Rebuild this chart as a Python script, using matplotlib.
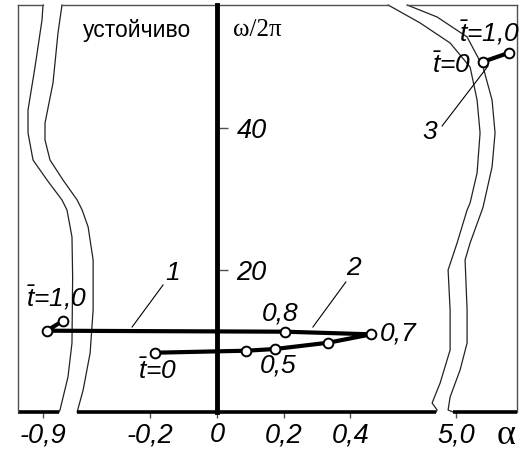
import numpy as np
import matplotlib
matplotlib.use("Agg")
import matplotlib.pyplot as plt

plt.rcParams['mathtext.fontset'] = 'custom'
plt.rcParams['mathtext.it'] = 'Liberation Sans:italic'
plt.rcParams['mathtext.rm'] = 'Liberation Sans:italic'

# axis ticks (alpha axis is broken twice)
alpha_ticks = [-0.9, -0.2, 0.0, 0.2, 0.4, 5.0]
alpha_tick_labels = ['-0,9', '-0,2', '0', '0,2', '0,4', '5,0']
omega_ticks = [20, 40]
omega_tick_labels = ['20', '40']

# trajectory 1-2, t from 0 to 1
traj_alpha = [-0.186, 0.087, 0.174, 0.334, 0.463, 0.204, -0.889, -0.839]
traj_omega = [8.35, 8.63, 8.87, 9.76, 10.94, 11.31, 11.45, 12.86]

# trajectory 3
traj3_alpha = [5.082, 5.160]
traj3_omega = [49.34, 50.61]

# stability boundaries, left double line
left_outer_alpha = [-0.900, -0.903, -0.924, -0.945, -0.945, -0.930, -0.888, -0.843,
                    -0.828, -0.813, -0.811, -0.813, -0.825, -0.849, -0.852]
left_outer_omega = [57.32, 55.21, 48.59, 42.54, 39.30, 35.49, 32.68, 29.86,
                    28.45, 24.65, 19.01, 9.72, 4.93, 0.28, 0.0]
left_inner_alpha = [-0.843, -0.855, -0.870, -0.894, -0.894, -0.879, -0.840, -0.420,
                    -0.405, -0.387, -0.372, -0.372, -0.381, -0.402, -0.420]
left_inner_omega = [57.32, 53.38, 46.34, 40.70, 38.31, 35.49, 32.68, 29.86,
                    28.45, 26.06, 21.41, 14.37, 8.31, 3.10, 0.0]

# stability boundaries, right double line
right_a_alpha = [0.514, 0.610, 4.982, 5.042, 5.063, 5.072, 5.063, 5.042, 5.033,
                 5.003, 4.976, 4.982, 4.982, 0.670, 0.646, 0.661, 0.658]
right_a_omega = [57.32, 54.79, 51.97, 48.59, 43.94, 39.30, 33.66, 29.44, 28.45,
                 23.80, 20.00, 14.37, 8.73, 4.08, 1.27, 0.28, 0.0]
right_b_alpha = [0.571, 0.661, 5.033, 5.081, 5.108, 5.117, 5.108, 5.081, 5.078,
                 5.042, 5.027, 5.033, 5.033, 5.012, 4.982, 4.976, 4.991]
right_b_omega = [57.32, 55.63, 52.82, 48.59, 43.94, 39.30, 34.51, 28.87, 28.45,
                 23.80, 21.41, 14.37, 9.72, 5.92, 2.11, 0.28, 0.0]

# piecewise scale for the broken alpha axis
brk_alpha = np.array([-10.0, -0.81, -0.43, 0.69, 4.975, 15.0])
brk_pos = np.array([-9.6225, -0.4325, -0.43, 0.69, 0.693, 10.718])


def forward(a):
    return np.interp(a, brk_alpha, brk_pos)


def inverse(u):
    return np.interp(u, brk_pos, brk_alpha)


fig = plt.figure(figsize=(5.26, 4.55), dpi=100)
ax = fig.add_axes([18 / 526, 43 / 455, 499 / 526, 407 / 455])
ax.set_xscale('function', functions=(forward, inverse))
xmin, xmax = -0.9751, 5.1829
ymax = 57.32
ax.set_xlim(xmin, xmax)
ax.set_ylim(0, ymax)

frame = '#505050'
ax.spines['top'].set_visible(False)
ax.spines['bottom'].set_visible(False)
ax.spines['left'].set_color(frame)
ax.spines['left'].set_linewidth(1.0)
ax.spines['right'].set_position(('data', 0))
ax.spines['right'].set_linewidth(3.5)
ax.spines['right'].set_zorder(3)

ax.yaxis.set_ticks_position('right')
ax.set_yticks(omega_ticks, omega_tick_labels)
ax.tick_params(axis='y', direction='out', length=8, width=1, color=frame, pad=6,
               labelsize=19.5)
ax.set_xticks(alpha_ticks, alpha_tick_labels)
ax.xaxis.set_minor_locator(matplotlib.ticker.NullLocator())
ax.tick_params(axis='x', direction='out', length=4.5, width=1, color=frame, pad=3,
               labelsize=19.5)
for lab in ax.get_xticklabels() + ax.get_yticklabels():
    lab.set_family('Liberation Sans')
    lab.set_style('italic')

# boundaries
for xs, ys in [(left_outer_alpha, left_outer_omega), (left_inner_alpha, left_inner_omega),
               (right_a_alpha, right_a_omega), (right_b_alpha, right_b_omega)]:
    ax.plot(xs, ys, color='#222222', lw=0.9, clip_on=False)

# frame pieces
ax.plot([xmin, left_outer_alpha[0]], [ymax, ymax], color=frame, lw=1, clip_on=False)
ax.plot([left_inner_alpha[0], right_a_alpha[0]], [ymax, ymax], color=frame, lw=1, clip_on=False)
ax.plot([right_b_alpha[0], xmax], [ymax, ymax], color=frame, lw=1, clip_on=False)
ax.plot([xmax, xmax], [0, ymax], color=frame, lw=1, clip_on=False)
ax.plot([xmin, left_outer_alpha[-1]], [0, 0], color='black', lw=2.6, clip_on=False,
        solid_capstyle='butt')
ax.plot([left_inner_alpha[-1], right_a_alpha[-1]], [0, 0], color='black', lw=2.6,
        clip_on=False, solid_capstyle='butt')
ax.plot([right_b_alpha[-1], xmax], [0, 0], color='black', lw=2.6, clip_on=False,
        solid_capstyle='butt')

# trajectories
ax.plot(traj_alpha, traj_omega, color='black', lw=3.0, zorder=4,
        marker='o', ms=7, mfc='white', mec='black', mew=1.4)
ax.plot(traj3_alpha, traj3_omega, color='black', lw=3.0, zorder=4,
        marker='o', ms=7, mfc='white', mec='black', mew=1.4)

# leader lines
ax.plot([-0.255, -0.162], [11.97, 17.89], color='black', lw=0.8)
ax.plot([0.288, 0.387], [11.97, 18.31], color='black', lw=0.8)
ax.plot([0.676, 5.096], [40.28, 48.73], color='black', lw=0.8)

it = dict(family='Liberation Sans', style='italic', fontsize=19, ha='center', va='center')
ax.text(-0.132, 19.58, '1', **it)
ax.text(0.411, 20.28, '2', **it)
ax.text(0.640, 39.44, '3', **it)
ax.text(-0.858, 16.06, r'$\bar{t}$=1,0', **it)
ax.text(-0.177, 5.77, r'$\bar{t}$=0', **it)
ax.text(5.102, 53.38, r'$\bar{t}$=1,0', **it)
ax.text(4.985, 48.87, r'$\bar{t}$=0', **it)
ax.text(0.189, 13.94, '0,8', **it)
ax.text(0.183, 6.48, '0,5', **it)
ax.text(0.4895, 10.99, '0,7', family='Liberation Sans', style='italic', fontsize=19,
        ha='left', va='center')

ax.text(-0.240, 53.66, 'устойчиво', family='Liberation Sans', fontsize=16.5,
        ha='center', va='center')
ax.text(0.120, 53.8, 'ω/2π', family='Liberation Serif', fontsize=18,
        ha='center', va='center')
ax.text(5.150, -3.3, 'α', family='Liberation Serif', fontsize=26,
        ha='center', va='center')

fig.savefig('out.png', dpi=100)
